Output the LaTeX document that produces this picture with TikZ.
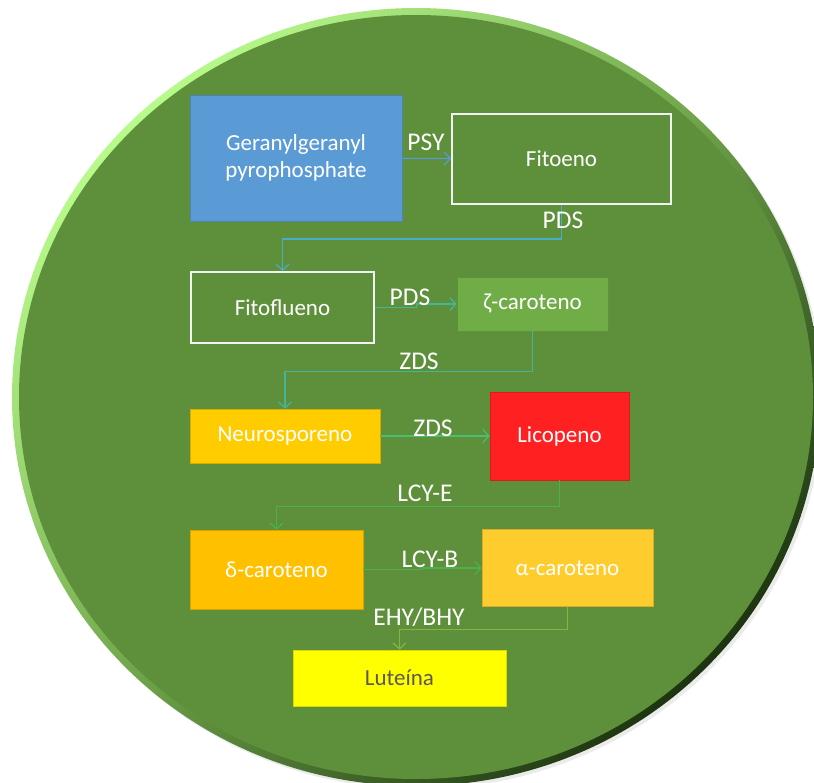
\documentclass[tikz,border=0pt]{standalone}
\usepackage{fontspec}
\setmainfont{Carlito}
\usepackage{tikz}
\usetikzlibrary{
	arrows.meta,
	calc,
	positioning
}

\definecolor{leaf}{HTML}{5E8F3A}
\definecolor{rimlight}{HTML}{B8FA8C}
\definecolor{rimdark}{HTML}{1C3510}
\definecolor{ggpp}{HTML}{5B9BD5}
\definecolor{zeta}{HTML}{70AD47}
\definecolor{neuro}{HTML}{FFCC00}
\definecolor{lico}{HTML}{FF2121}
\definecolor{delta}{HTML}{FFC000}
\definecolor{alfa}{HTML}{FFCC2E}
\definecolor{lutein}{HTML}{FFFF00}
\definecolor{psyc}{HTML}{5B9BD5}
\definecolor{pdsc}{HTML}{4BACC6}
\definecolor{zdsc}{HTML}{45B59A}
\definecolor{zdsb}{HTML}{4CBE72}
\definecolor{lcyc}{HTML}{4DB04F}
\definecolor{ehyc}{HTML}{86B444}

\begin{document}
\begin{tikzpicture}[x=1pt, y=-1pt,
	box/.style={rectangle, inner sep=0pt, text=white, align=center,
		font=\fontsize{23}{27}\selectfont},
	filled/.style={box, fill=#1, draw=#1!85!black, line width=0.6pt},
	hollow/.style={box, draw=white!95!black, line width=2pt},
	enz/.style={text=white, inner sep=0pt, font=\fontsize{25.5}{28}\selectfont},
	conn/.style={draw=#1, line width=1.2pt,
		-{Straight Barb[length=6pt, width=13pt, line width=1.2pt]}}
]
	\useasboundingbox (0,0) rectangle (814,782);

	% cell
	\fill[black!8] (419,400) ellipse [x radius=404, y radius=389];
	\shade[top color=rimlight, bottom color=rimdark, middle color=leaf!80!rimlight,
		shading angle=45] (416,397) ellipse [x radius=404, y radius=389];
	\fill[leaf] (416,397) ellipse [x radius=397, y radius=382];

	% compounds
	\node[filled=ggpp, minimum width=212pt, minimum height=126pt] (ggpp) at (296,158)
		{Geranylgeranyl\\pyrophosphate};
	\node[hollow, minimum width=219pt, minimum height=90pt] (fito) at (561.5,159) {Fitoeno};
	\node[hollow, minimum width=183pt, minimum height=71pt] (flueno) at (282.5,307.5) {Fitoflueno};
	\node[filled=zeta, minimum width=151pt, minimum height=54pt] (zcar) at (532.5,304) {ζ-caroteno};
	\node[filled=neuro, minimum width=190pt, minimum height=54pt] (neu) at (285,436) {Neurosporeno};
	\node[filled=lico, minimum width=139pt, minimum height=88pt] (lic) at (559.5,436) {Licopeno};
	\node[filled=delta, minimum width=173pt, minimum height=79pt] (dcar) at (276.5,569.5) {δ-caroteno};
	\node[filled=alfa, minimum width=171pt, minimum height=77pt] (acar) at (567.5,568) {α-caroteno};
	\node[filled=lutein, text=black!65, minimum width=213pt, minimum height=56pt] (lut) at (399.5,678) {Luteína};

	% enzymes
	\draw[conn=psyc] (ggpp) -- (fito);
	\node[enz] (psy) at (426,142) {PSY};

	\draw[conn=pdsc] (fito.south) -- ++(0,34) -| (flueno.north);
	\node[enz] (pds) at (563,220) {PDS};

	\coordinate (pdsbend) at ([xshift=-40pt]zcar.west);
	\draw[conn=zdsc] (flueno.east) -| (pdsbend) -- (zcar.west);
	\node[enz] (pdsb) at (410,297) {PDS};

	\draw[conn=zdsc] (zcar.south) -- ++(0,40) -| (neu.north);
	\node[enz] (zds) at (419,361) {ZDS};

	\draw[conn=zdsb] (neu) -- (lic);
	\node[enz] (zdsb) at (433,428) {ZDS};

	\draw[conn=lcyc] (lic.south) -- ++(0,26) -| (dcar.north);
	\node[enz] (lcye) at (425,493) {LCY-E};

	\coordinate (lcybend) at ([xshift=-59pt]acar.west);
	\draw[conn=lcyc] (dcar.east) -| (lcybend) -- (acar.west);
	\node[enz] (lcyb) at (430,559) {LCY-B};

	\draw[conn=ehyc] (acar.south) -- ++(0,22.5) -| (lut.north);
	\node[enz] (ehy) at (419,617) {EHY/BHY};

\end{tikzpicture}
\end{document}
